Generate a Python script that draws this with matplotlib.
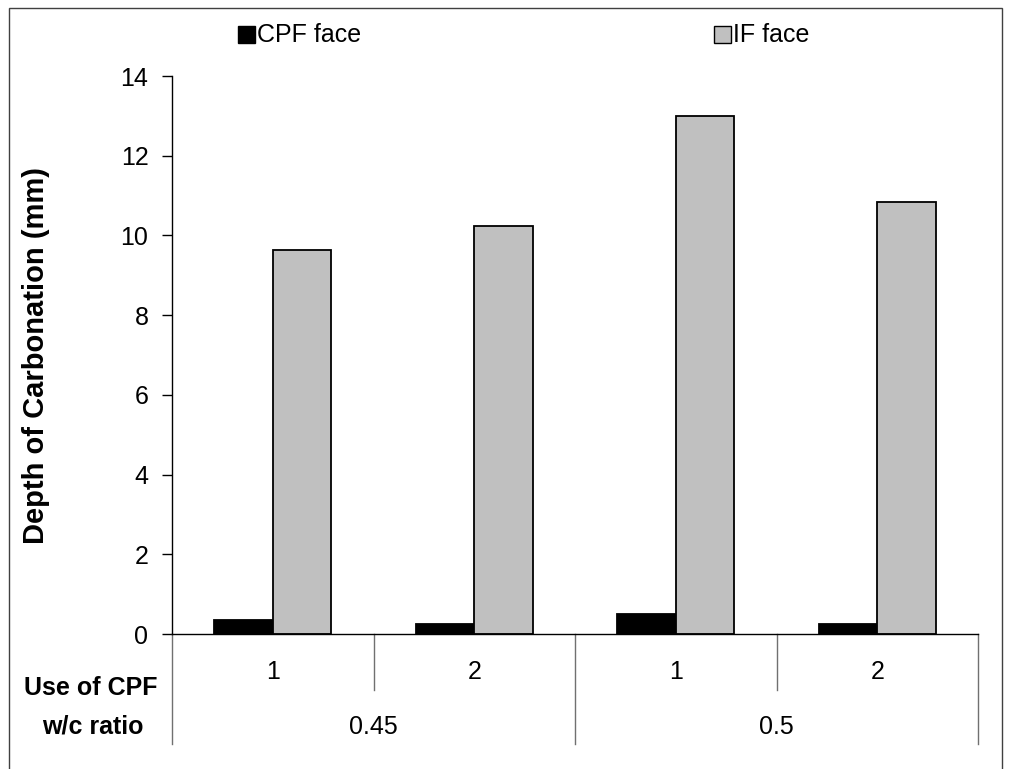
import numpy as np
import matplotlib
matplotlib.use("Agg")
from matplotlib import pyplot as plt
from matplotlib.patches import Rectangle
from matplotlib.lines import Line2D

plt.rcParams['font.family'] = ['Liberation Sans', 'DejaVu Sans']

# data
use_of_cpf = ["1", "2", "1", "2"]
wc_ratio = ["0.45", "0.5"]
cpf_face = [0.35, 0.25, 0.5, 0.25]
if_face = [9.63, 10.24, 13.0, 10.84]
yticks = [0, 2, 4, 6, 8, 10, 12, 14]

W, H = 1011, 769
fig = plt.figure(figsize=(W / 100, H / 100), dpi=100)

def fx(px):
    return px / W

def fy(py):
    return 1 - py / H

# outer frame (bottom edge runs off the picture)
fig.add_artist(Rectangle((fx(9), fy(800)), fx(1002) - fx(9), fy(8) - fy(800),
                         transform=fig.transFigure, fill=False,
                         edgecolor='#404040', lw=1.0))

ax = fig.add_axes([fx(172), fy(634), fx(978) - fx(172), fy(76) - fy(634)])
x = np.arange(len(cpf_face))
bw = 0.29
ax.bar(x - bw, cpf_face, bw, align='edge', color='black', edgecolor='black', lw=1.3)
ax.bar(x, if_face, bw, align='edge', color='#C0C0C0', edgecolor='black', lw=1.3)

ax.set_xlim(-0.5, len(x) - 0.5)
ax.set_ylim(0, 14)
ax.set_yticks(yticks)
ax.tick_params(axis='y', direction='out', length=7, width=1, labelsize=18, pad=10)
ax.set_xticks([])
for s in ['top', 'right']:
    ax.spines[s].set_visible(False)
ax.spines['left'].set_linewidth(1)
ax.spines['bottom'].set_linewidth(1)
fig.text(fx(36), fy(355), "Depth of Carbonation (mm)", rotation=90,
         ha='center', va='center', fontsize=21, fontweight='bold')

# category axis: inner and group dividers
tr = ax.get_xaxis_transform()
for b in np.arange(-0.5, len(x), 1.0):
    group_edge = (b + 0.5) % 2 == 0
    ybot = -0.197 if group_edge else -0.1004
    ax.add_line(Line2D([b, b], [0, ybot], transform=tr, color='#707070',
                       lw=1.0, clip_on=False))
for i, lab in enumerate(use_of_cpf):
    ax.text(x[i], -0.068, lab, transform=tr, ha='center', va='center', fontsize=18)
for g, lab in enumerate(wc_ratio):
    ax.text(2 * g + 0.5, -0.167, lab, transform=tr, ha='center', va='center', fontsize=18)

fig.text(fx(91), fy(688), "Use of CPF", ha='center', va='center', fontsize=18, fontweight='bold')
fig.text(fx(93), fy(727), "w/c ratio", ha='center', va='center', fontsize=18, fontweight='bold')

# legend
for px0, col, lab in [(238, 'black', "CPF face"), (714, '#C0C0C0', "IF face")]:
    fig.add_artist(Rectangle((fx(px0), fy(43)), fx(17), fy(26) - fy(43),
                             transform=fig.transFigure, facecolor=col,
                             edgecolor='black', lw=1.0))
    fig.text(fx(px0 + 19), fy(35), lab, ha='left', va='center', fontsize=18)

fig.savefig("out.png", dpi=100)
